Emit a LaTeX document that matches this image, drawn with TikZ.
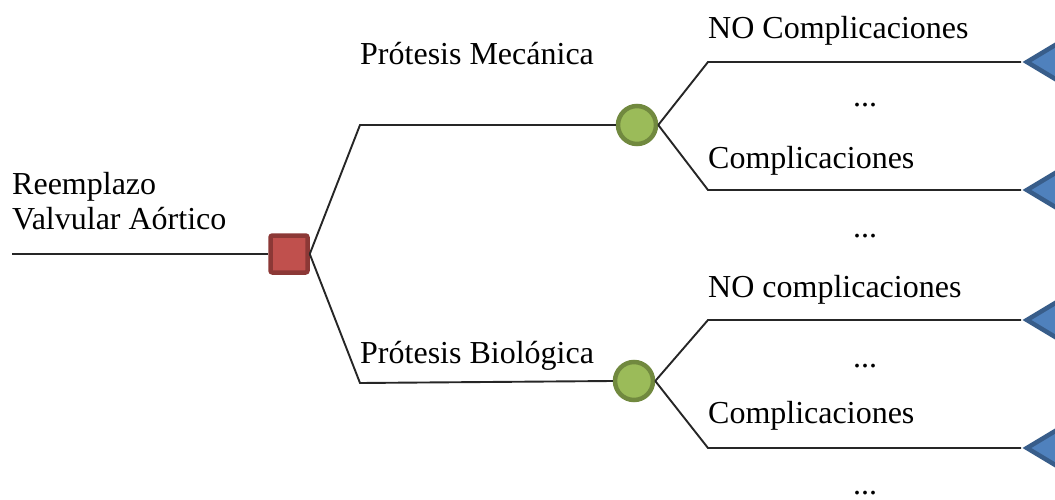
\documentclass[tikz,border=0pt]{standalone}
\usepackage{fontspec}
\setmainfont{Liberation Serif}
\usetikzlibrary{
  shapes.geometric,
  positioning,
  calc
}
\definecolor{decfill}{HTML}{C0504D}
\definecolor{decdraw}{HTML}{8C3836}
\definecolor{chfill}{HTML}{9BBB59}
\definecolor{chdraw}{HTML}{71893F}
\definecolor{endfill}{HTML}{4F81BD}
\definecolor{enddraw}{HTML}{385D8A}
\definecolor{linecolor}{HTML}{262626}
\tikzset{
  base/.style={
    text=black,
    font=\fontsize{32}{35}\selectfont,
    inner sep=0pt,
  },
  decision/.style={
    rectangle,
    fill=decfill,
    draw=decdraw,
    line width=4.5pt,
    rounded corners=2pt,
    minimum size=37pt,
    inner sep=0pt,
  },
  chance/.style={
    circle,
    fill=chfill,
    draw=chdraw,
    line width=4.5pt,
    minimum size=38pt,
    inner sep=0pt,
  },
  terminal/.style={
    isosceles triangle,
    isosceles triangle stretches,
    shape border rotate=180,
    fill=endfill,
    draw=enddraw,
    line width=4.5pt,
    minimum width=48pt,
    minimum height=40pt,
    inner sep=0pt,
    anchor=apex,
  },
  branch/.style={
    line width=1.9pt,
    draw=linecolor,
  },
  lbl/.style={
    base,
    anchor=base west,
  },
  dots/.style={
    base,
    anchor=base,
  },
}
\begin{document}
\begin{tikzpicture}[x=1pt, y=-1pt]
\useasboundingbox (0,0) rectangle (1055,500);

% === Decision ===

\coordinate (start) at (12,254);
\node[decision] (dec) at (289,254) {};
\node[base, align=left, anchor=north west] (root) at (12,172)
  {Reemplazo\\Valvular Aórtico};

\draw[branch] (start) -- (dec.west);

% === Prosthesis branches ===

\coordinate (kmec) at (360,125);
\coordinate (kbio) at (360,383);
\node[chance] (cmec) at (637,125) {};
\node[chance] (cbio) at (634,381) {};

\node[lbl] (lmec) at (360,65) {Prótesis Mecánica};
\node[lbl] (lbio) at (360,363) {Prótesis Biológica};

\draw[branch] (dec.east) -- (kmec) -- (cmec.west);
\draw[branch] (dec.east) -- (kbio) -- (cbio.west);

% === Outcomes ===

\coordinate (k1) at (708,62);
\coordinate (k2) at (708,190);
\coordinate (k3) at (708,320);
\coordinate (k4) at (708,448);

\node[terminal] (t1) at (1021,62) {};
\node[terminal] (t2) at (1021,190) {};
\node[terminal] (t3) at (1021,320) {};
\node[terminal] (t4) at (1021,448) {};

\draw[branch] (cmec.east) -- (k1) -- (t1.apex);
\draw[branch] (cmec.east) -- (k2) -- (t2.apex);
\draw[branch] (cbio.east) -- (k3) -- (t3.apex);
\draw[branch] (cbio.east) -- (k4) -- (t4.apex);

\node[lbl] (l1) at (708,39) {NO Complicaciones};
\node[lbl] (l2) at (708,168) {Complicaciones};
\node[lbl] (l3) at (708,297) {NO complicaciones};
\node[lbl] (l4) at (708,423) {Complicaciones};

\node[dots] (d1) at (865,107) {...};
\node[dots] (d2) at (865,237) {...};
\node[dots] (d3) at (865,367) {...};
\node[dots] (d4) at (865,494) {...};

\end{tikzpicture}
\end{document}
